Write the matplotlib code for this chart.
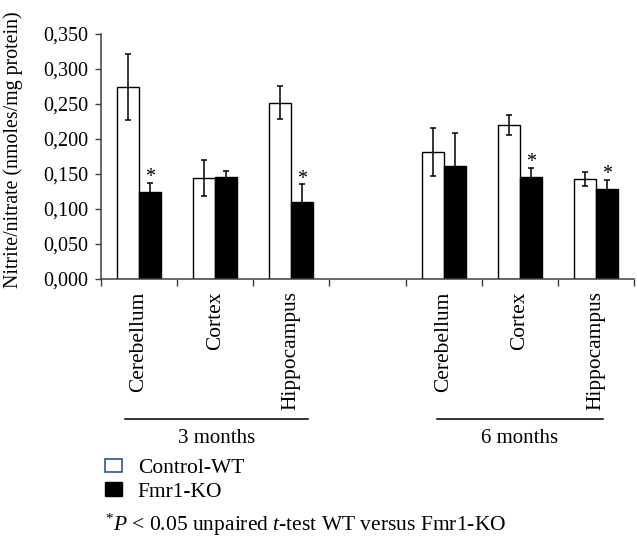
import numpy as np
import matplotlib
matplotlib.use("Agg")
import matplotlib.pyplot as plt
from matplotlib.patches import Patch

plt.rcParams['font.family'] = 'Liberation Serif'
plt.rcParams['mathtext.fontset'] = 'custom'
plt.rcParams['mathtext.rm'] = 'Liberation Serif'
plt.rcParams['mathtext.it'] = 'Liberation Serif:italic'

# data (blank slot between the two age groups)
categories = ["Cerebellum", "Cortex", "Hippocampus", "", "Cerebellum", "Cortex", "Hippocampus"]
wt_mean = [0.274, 0.144, 0.252, np.nan, 0.181, 0.220, 0.143]
wt_err = [0.047, 0.026, 0.023, np.nan, 0.034, 0.014, 0.010]
ko_mean = [0.124, 0.145, 0.110, np.nan, 0.161, 0.145, 0.128]
ko_err = [0.013, 0.009, 0.025, np.nan, 0.048, 0.014, 0.013]
significant = [True, False, True, False, False, True, True]
groups = ["3 months", "6 months"]
group_span = [(0.32, 2.72), (4.41, 6.59)]
yticks = [0.0, 0.05, 0.10, 0.15, 0.20, 0.25, 0.30, 0.35]

fs = 14.5
fig = plt.figure(figsize=(6.37, 5.41), dpi=100)
ax = fig.add_axes([0.1586, 0.4843, 0.8367, 0.4529])

x = np.arange(len(categories)) + 0.5
w = 0.29
ax.bar(x - w / 2, wt_mean, w, color='white', edgecolor='black', linewidth=1.0, zorder=2)
ax.bar(x + w / 2, ko_mean, w, color='black', edgecolor='black', linewidth=1.0, zorder=2)
ax.errorbar(x - w / 2, wt_mean, yerr=wt_err, fmt='none', ecolor='black',
            elinewidth=1.1, capsize=2.3, capthick=1.1, zorder=3)
ax.errorbar(x + w / 2, ko_mean, yerr=ko_err, fmt='none', ecolor='black',
            elinewidth=1.1, capsize=2.3, capthick=1.1, zorder=3)

# asterisks for significant differences
for xi, m, e, s in zip(x, ko_mean, ko_err, significant):
    if s:
        ax.annotate('*', (xi + w / 2, m + e), xytext=(0, -3), textcoords='offset points',
                    ha='center', va='bottom', fontsize=fs)

ax.set_xlim(0, len(categories))
ax.set_ylim(0, 0.35)
ax.set_yticks(yticks)
ax.set_yticklabels([f"{t:.3f}".replace('.', ',') for t in yticks], fontsize=fs)
ax.set_xticks(np.arange(len(categories) + 1))
ax.set_xticklabels([])
ax.set_xticks(x, categories, minor=True, rotation=90, fontsize=15.4)
ax.tick_params(axis='x', which='minor', length=0, pad=9)
ax.tick_params(axis='x', which='major', length=5, width=1.0, direction='out', color='#404040')
ax.tick_params(axis='y', length=4, width=1.0, direction='out', pad=5, color='#404040')
for side in ['top', 'right']:
    ax.spines[side].set_visible(False)
for side in ['left', 'bottom']:
    ax.spines[side].set_color('#404040')
    ax.spines[side].set_linewidth(1.1)
ax.set_ylabel("Nitrite/nitrate (nmoles/mg protein)", fontsize=14.3)
ax.yaxis.set_label_coords(-0.147, 0.527)

# age group brackets
trans = ax.get_xaxis_transform()
for name, (x0, x1) in zip(groups, group_span):
    ax.plot([x0, x1], [-0.573, -0.573], color='black', lw=1.1, transform=trans, clip_on=False)
    ax.text((x0 + x1) / 2, -0.612, name, ha='center', va='top', fontsize=15, transform=trans)

handles = [Patch(facecolor='white', edgecolor='#2b5797', linewidth=1.2),
           Patch(facecolor='black', edgecolor='black')]
fig.legend(handles, ["Control-WT", "Fmr1-KO"], loc='upper left',
           bbox_to_anchor=(0.1655, 0.152), frameon=False, fontsize=15.5,
           handlelength=0.75, handleheight=0.6, handletextpad=0.75,
           labelspacing=0.2, borderpad=0, borderaxespad=0)

fig.text(0.165, 0.030, r"$^{*}P$ < 0.05 unpaired $t$-test WT versus Fmr1-KO",
         fontsize=15.5, va='center', ha='left')

fig.savefig("out.png", dpi=100)
